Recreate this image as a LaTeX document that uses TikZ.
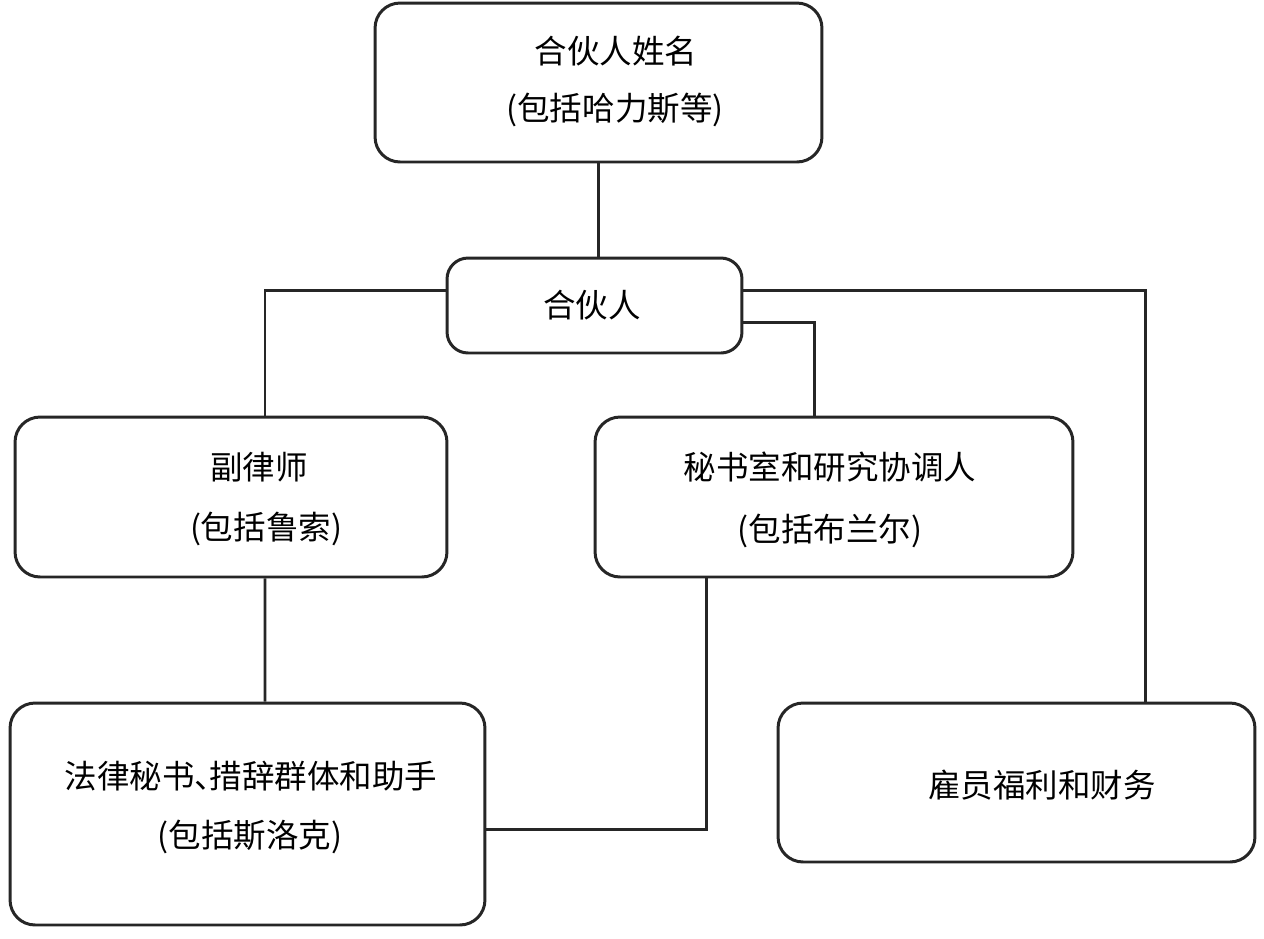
\documentclass[tikz,border=0pt]{standalone}
\usepackage{fontspec}
\newfontfamily\cjk{Noto Sans CJK SC}
\usetikzlibrary{calc}
\begin{document}
\begin{tikzpicture}[x=0.02cm,y=-0.02cm,
  box/.style={draw=black!85,line width=1.7pt,rounded corners=0.5cm,inner sep=0pt},
  txt/.style={font=\cjk\fontsize{18.5}{22}\selectfont,inner sep=0pt,anchor=center},
  link/.style={draw=black!85,line width=1.7pt}]
\useasboundingbox (0,0) rectangle (1264,938);
% boxes
\node[box,minimum width=8.94cm,minimum height=3.18cm] (B1) at (598.5,82.5) {};
\node[box,rounded corners=0.42cm,minimum width=5.9cm,minimum height=1.9cm] (B2) at (594.5,305.5) {};
\node[box,minimum width=8.64cm,minimum height=3.2cm] (B3) at (231,497) {};
\node[box,minimum width=9.56cm,minimum height=3.2cm] (B4) at (834,497) {};
\node[box,minimum width=9.5cm,minimum height=4.44cm] (B5) at (247.5,814) {};
\node[box,minimum width=9.54cm,minimum height=3.18cm] (B6) at (1016.5,782.5) {};
% texts
\node[txt] (t1a) at (616,51) {合伙人姓名};
\node[txt] (t1b) at (615,110) {(包括哈力斯等)};
\node[txt] (t2) at (592,305) {合伙人};
\node[txt] (t3a) at (259,467) {副律师};
\node[txt] (t3b) at (266,529) {(包括鲁索)};
\node[txt] (t4a) at (830,467) {秘书室和研究协调人};
\node[txt] (t4b) at (830,531) {(包括布兰尔)};
\node[txt] (t5a) at (251,776) {法律秘书\makebox[0.45em][l]{、}措辞群体和助手};
\node[txt] (t5b) at (250,837) {(包括斯洛克)};
\node[txt] (t6) at (1042,785) {雇员福利和财务};
% connectors
\draw[link] (B1.south) -- (B1.south |- B2.north);
\draw[link] ($(B2.west)+(0,-15.5)$) -| ($(B3.north)+(34,0)$);
\draw[link] ($(B2.east)+(0,-15.5)$) -| ($(B6.north)+(128.5,0)$);
\draw[link] ($(B2.east)+(0,16.5)$) -| ($(B4.north)+(-20,0)$);
\draw[link] ($(B3.south)+(34,0)$) -- ($(B5.north)+(17.5,0)$);
\draw[link] ($(B4.south)+(-128,0)$) |- ($(B5.east)+(0,15)$);
\end{tikzpicture}
\end{document}
